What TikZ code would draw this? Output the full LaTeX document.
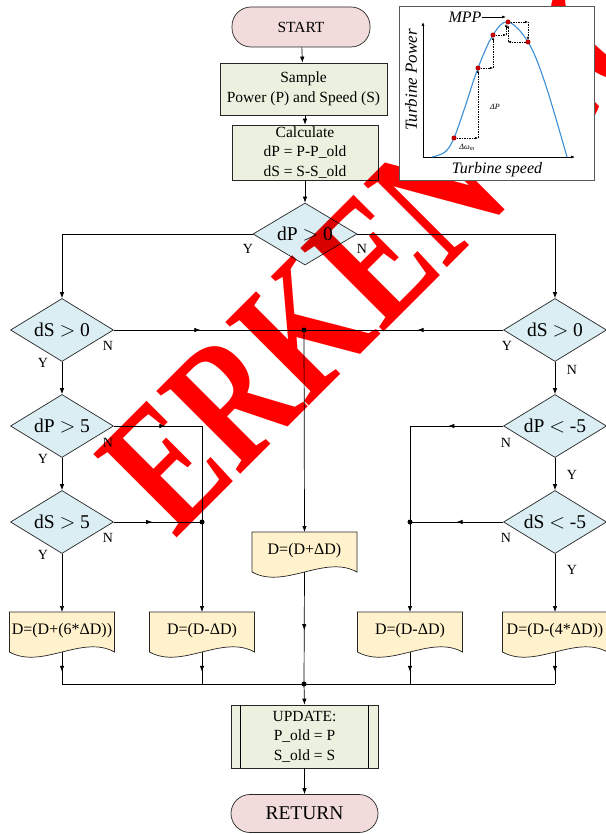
\documentclass[tikz,border=0pt]{standalone}
\usepackage{fontspec}
\setmainfont{Liberation Serif}
\usetikzlibrary{shapes.geometric,arrows.meta,decorations.markings,calc}
\definecolor{termfill}{HTML}{F2DCDB}
\definecolor{procfill}{HTML}{EBF1DE}
\definecolor{decfill}{HTML}{DAEEF3}
\definecolor{docfill}{HTML}{FFF2CC}
\definecolor{curveblue}{HTML}{3A8FD8}
\definecolor{dotred}{HTML}{C00000}
\newcommand\docbox[4]{%
  \draw[docst] ({#2-52.5},#3) -- ({#2+52.5},#3) -- ({#2+52.5},{#3+40})
     .. controls ({#2+20},{#3+22}) and ({#2-20},{#3+58}) .. ({#2-52.5},{#3+40}) -- cycle;
  \node[doctext] (#1) at (#2,{#3+19}) {#4};
  \coordinate (#1-top) at (#2,#3);
  \coordinate (#1-bot) at (#2,{#3+40});
}
\begin{document}
\begin{tikzpicture}[x=1pt,y=-1pt,
  base/.style={draw=black!85, line width=0.7pt, align=center, inner sep=0.5pt},
  term/.style={base, fill=termfill, rounded corners=19pt, minimum width=138pt, minimum height=40pt, font=\fontsize{15.5}{18}\selectfont},
  proc/.style={base, fill=procfill, font=\fontsize{15.5}{19.5}\selectfont},
  dec/.style={base, diamond, fill=decfill, aspect=1.6, inner sep=0pt, minimum width=103pt, minimum height=63pt, font=\fontsize{19.5}{20}\selectfont},
  docst/.style={draw=black!85, line width=0.7pt, fill=docfill},
  doctext/.style={inner sep=0pt, font=\fontsize{16}{18}\selectfont},
  lab/.style={font=\fontsize{14}{14}\selectfont, inner sep=0pt},
  line/.style={draw=black, line width=0.7pt},
  arr/.style={line, -{Latex[length=6pt,width=4.5pt]}},
  midarr/.style={line, postaction={decorate}, decoration={markings, mark=at position #1 with {\arrow{Latex[length=6pt,width=4.5pt]}}}},
  jdot/.style={circle, fill=black, inner sep=0pt, minimum size=5pt},
  dsh/.style={draw=black, line width=0.5pt, dash pattern=on 1.5pt off 1pt, -{Latex[length=3pt,width=2.5pt]}},
  rdot/.style={circle, fill=dotred, inner sep=0pt, minimum size=5pt}
]
\useasboundingbox (0,0) rectangle (605,834);
\fill[white] (0,0) rectangle (605,834);

% ---------- nodes ----------
\node[term] (start) at (301,27) {START};
\node[proc, minimum width=167pt, minimum height=52pt] (sample) at (303.5,89) {Sample\\Power (P) and Speed (S)};
\node[proc, minimum width=146pt, minimum height=55pt] (calc) at (305,152.5) {Calculate\\dP = P-P\_old\\dS = S-S\_old};
\node[dec, minimum width=104pt, minimum height=62pt] (d0) at (305,234) {dP $>$ 0};
\node[dec] (dsL) at (62,330) {dS $>$ 0};
\node[dec] (dsR) at (555,330) {dS $>$ 0};
\node[dec] (dp5) at (62,426) {dP $>$ 5};
\node[dec] (dsp5) at (62,522) {dS $>$ 5};
\node[dec] (dpm5) at (555,426) {dP $<$ -5};
\node[dec] (dsm5) at (555,522) {dS $<$ -5};

\docbox{dA}{304.5}{532}{D=(D+ΔD)}
\docbox{dB}{62}{612}{D=(D+(6*ΔD))}
\docbox{dC}{202}{612}{D=(D-ΔD)}
\docbox{dD}{410}{612}{D=(D-ΔD)}
\docbox{dE}{555}{612}{D=(D-(4*ΔD))}

\node[proc, minimum width=147pt, minimum height=63pt] (upd) at (304.5,736.5) {UPDATE:\\P\_old = P\\S\_old = S};
\draw[line] ([xshift=10pt]upd.north west) -- ([xshift=10pt]upd.south west);
\draw[line] ([xshift=-10pt]upd.north east) -- ([xshift=-10pt]upd.south east);
\node[term, font=\fontsize{19.5}{20}\selectfont, minimum height=38pt, minimum width=147pt] (ret) at (304.5,813.5) {RETURN};

\node[jdot] (j1) at (304,330) {};
\node[jdot] (j2) at (202,522) {};
\node[jdot] (j3) at (410,522) {};
\node[jdot] (j4) at (304,684) {};

% ---------- connectors ----------
\draw[arr] (start) -- (sample);
\draw[arr] (sample.south -| calc.north) -- (calc.north);
\draw[arr] (calc) -- (d0);
\draw[arr] (d0.west) -| (dsL.north);
\draw[arr] (d0.east) -| (dsR.north);
\draw[midarr=0.455] (dsL.east) -- (j1.center);
\draw[midarr=0.43] (dsR.west) -- (j1.center);
\draw[arr] (j1.center) -- (dA-top);
\draw[arr] (dsL) -- (dp5);
\draw[arr] (dp5) -- (dsp5);
\draw[arr] (dsp5.south) -- (dB-top);
\draw[midarr=0.28] (dp5.east) -| (j2.center);
\draw[midarr=0.435] (dsp5.east) -- (j2.center);
\draw[arr] (j2.center) -- (dC-top);
\draw[arr] (dsR) -- (dpm5);
\draw[arr] (dpm5) -- (dsm5);
\draw[arr] (dsm5.south) -- (dE-top);
\draw[midarr=0.29] (dpm5.west) -| (j3.center);
\draw[midarr=0.5] (dsm5.west) -- (j3.center);
\draw[arr] (j3.center) -- (dD-top);
\draw[midarr=0.52] (dA-bot) -- (j4.center);
\foreach \d in {dB,dC,dD,dE}{
  \draw[midarr=0.62] (\d-bot) -- (\d-bot |- j4.center);
}
\draw[line] (dB-bot |- j4.center) -- (dE-bot |- j4.center);
\draw[arr] (j4.center) -- (upd.north);
\draw[arr] (upd) -- (ret);

% ---------- Y / N labels ----------
\node[lab] at (248,249) {Y};
\node[lab] at (362,249) {N};
\node[lab] at (43,363) {Y};
\node[lab] at (108,346) {N};
\node[lab] at (507,346) {Y};
\node[lab] at (572,370) {N};
\node[lab] at (43,459) {Y};
\node[lab] at (108,443) {N};
\node[lab] at (43,555) {Y};
\node[lab] at (108,538) {N};
\node[lab] at (506,443) {N};
\node[lab] at (572,475) {Y};
\node[lab] at (506,538) {N};
\node[lab] at (572,570) {Y};

% ---------- watermark ----------
\begin{scope}[blend mode=multiply]
\node[rotate=45, anchor=base west, inner sep=0pt, text=red, font=\fontsize{180}{180}\selectfont\bfseries] (wm) at (175,540) {\scalebox{0.75}[1]{ERKEN GÖRÜNÜM}};
\end{scope}

% ---------- inset chart ----------
\draw[draw=black!65, line width=1pt, fill=white] (399,7) rectangle (594,181);
\draw[line width=0.7pt, -{Latex[length=4pt,width=3pt]}] (423,157) -- (423,22);
\draw[line width=0.7pt, -{Latex[length=4pt,width=3pt]}] (423,157) -- (575,157);
\draw[curveblue, line width=1.1pt] plot[smooth, tension=0.6] coordinates {(432,157) (445,152) (454,138) (465,107) (478,68) (493,35) (508,22) (528,42) (545,83) (567,157)};
\draw[dsh] (454,138) -- (478,138);
\draw[dsh] (478,138) -- (478,70);
\draw[dsh] (478,68) -- (493,68);
\draw[dsh] (493,68) -- (493,37);
\draw[dsh] (493,35) -- (506,35);
\draw[dsh] (506,35) -- (506,24);
\draw[dsh] (508,22) -- (528,22);
\draw[dsh] (528,22) -- (528,40);
\draw[dsh] (528,42) -- (508,42);
\draw[dsh] (508,42) -- (508,25);
\foreach \p in {(454,138),(478,68),(493,35),(508,22),(528,42)}{\node[rdot] at \p {};}
\node[inner sep=0pt, font=\fontsize{16}{16}\selectfont\itshape] (mpp) at (465,17) {MPP};
\draw[line width=0.7pt, -{Latex[length=4pt,width=3pt]}] (mpp.east) -- (506,17);
\node[inner sep=0pt, rotate=90, font=\fontsize{17}{17}\selectfont\itshape] at (411,80) {Turbine Power};
\node[inner sep=0pt, font=\fontsize{16}{16}\selectfont\itshape] at (497,170) {Turbine speed};
\node[inner sep=0pt, font=\fontsize{8}{8}\selectfont\itshape] at (495,107) {ΔP};
\node[inner sep=0pt, font=\fontsize{8}{8}\selectfont\itshape] at (467,147) {Δω\textsubscript{m}};
\end{tikzpicture}
\end{document}
